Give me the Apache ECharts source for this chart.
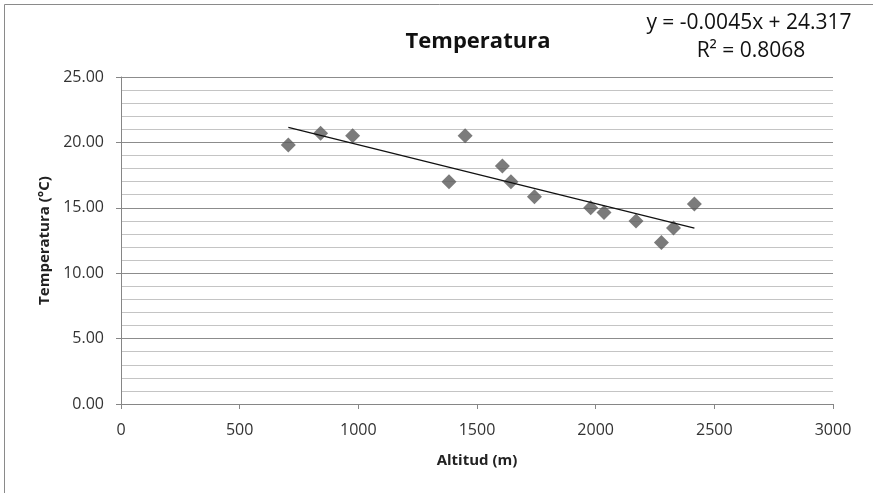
<!DOCTYPE html>
<html>
<head>
<meta charset="utf-8">
<title>Temperatura</title>
<script src="https://cdn.jsdelivr.net/npm/echarts@6/dist/echarts.min.js"></script>
<style>
  html, body { margin: 0; padding: 0; background: #fff; }
  #chart { width: 873px; height: 493px; }
</style>
</head>
<body>
<div id="chart"></div>
<script>
// altitude (m) and temperature (°C)
var altitud = [705, 841, 976, 1382, 1450, 1607, 1643, 1742, 1979, 2035, 2170, 2277, 2328, 2416];
var temperatura = [19.8, 20.7, 20.5, 17.0, 20.5, 18.2, 17.0, 15.85, 15.0, 14.65, 14.0, 12.35, 13.45, 15.3];
// linear trend as printed on the chart
var slope = -0.0045;
var intercept = 24.317;
var eqText = 'y = -0.0045x + 24.317';
var r2Text = 'R\u00b2 = 0.8068';

var font = '"Open Sans", "DejaVu Sans", sans-serif';

var points = [];
for (var i = 0; i < altitud.length; ++i) {
    points.push([altitud[i], temperatura[i]]);
}
var xMin = Math.min.apply(null, altitud);
var xMax = Math.max.apply(null, altitud);
var trend = [[xMin, slope * xMin + intercept], [xMax, slope * xMax + intercept]];

var chart = echarts.init(document.getElementById('chart'));
chart.setOption({
    animation: false,
    backgroundColor: '#fff',
    title: {
        text: 'Temperatura',
        left: 473, top: 26, textAlign: 'center',
        textStyle: { fontFamily: font, fontSize: 22, fontWeight: 'bold', color: '#111' }
    },
    grid: { left: 121, right: 40, top: 77, bottom: 89 },
    xAxis: {
        type: 'value', min: 0, max: 3000, interval: 500,
        name: 'Altitud (m)', nameLocation: 'middle', nameGap: 49,
        nameTextStyle: { fontFamily: font, fontSize: 15, fontWeight: 'bold', color: '#222' },
        axisLine: { lineStyle: { color: '#868686' } },
        axisTick: { show: true, length: 5, lineStyle: { color: '#868686' } },
        axisLabel: {
            fontFamily: font, fontSize: 16, color: '#333', margin: 18,
            formatter: function (v) { return String(v); }
        },
        splitLine: { show: false }
    },
    yAxis: {
        type: 'value', min: 0, max: 25, interval: 5,
        name: 'Temperatura (\u00b0C)', nameLocation: 'middle', nameGap: 68, nameRotate: 90,
        nameTextStyle: { fontFamily: font, fontSize: 15, fontWeight: 'bold', color: '#222' },
        axisLine: { show: true, lineStyle: { color: '#868686' } },
        axisTick: { show: true, length: 5, lineStyle: { color: '#868686' } },
        axisLabel: {
            fontFamily: font, fontSize: 16, color: '#333', margin: 17,
            formatter: function (v) { return v.toFixed(2); }
        },
        splitLine: { show: true, lineStyle: { color: '#8c8c8c', width: 1 } },
        minorTick: { show: false, splitNumber: 5 },
        minorSplitLine: { show: true, lineStyle: { color: '#c4c4c4', width: 1 } }
    },
    series: [
        {
            type: 'scatter',
            data: points,
            symbol: 'diamond',
            symbolSize: 15,
            itemStyle: { color: '#5a5a5a' },
            z: 3
        },
        {
            type: 'line',
            data: trend,
            symbol: 'none',
            lineStyle: { color: '#111', width: 1.3 },
            z: 4
        }
    ],
    graphic: [
        {
            type: 'rect', silent: true,
            shape: { x: 4.5, y: 4.5, width: 900, height: 600 },
            style: { fill: 'none', stroke: '#8a8a8a', lineWidth: 1 }
        },
        {
            type: 'text', x: 749, y: 13,
            style: { text: eqText, font: '21px ' + font, fill: '#111', align: 'center' }
        },
        {
            type: 'text', x: 751, y: 41,
            style: { text: r2Text, font: '21px ' + font, fill: '#111', align: 'center' }
        }
    ]
});
</script>
</body>
</html>
